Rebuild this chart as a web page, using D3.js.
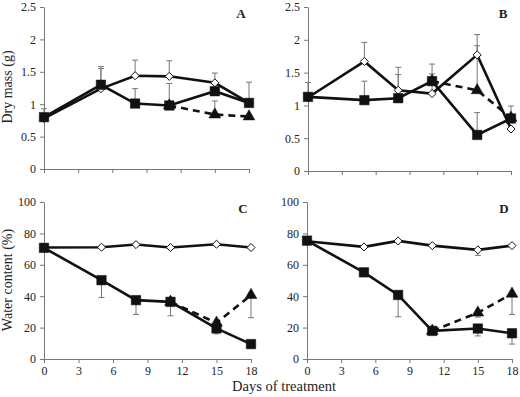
<!DOCTYPE html>
<html>
<head>
<meta charset="utf-8">
<script src="https://cdn.jsdelivr.net/npm/d3@7"></script>
<style>
  body { margin: 0; background: #fff; }
  text { font-family: "Liberation Serif", "Times New Roman", serif; fill: #222; }
</style>
</head>
<body>
<svg id="chart" width="520" height="397"></svg>
<script>
// days of treatment
var days = [0, 5, 8, 11, 15, 18];
var rewaterDays = [11, 15, 18];
var xTicks = [0, 3, 6, 9, 12, 15, 18];

// panel A - dry mass
var dryA_square = [0.80, 1.30, 1.01, 0.98, 1.20, 1.02];
var dryA_squareErr = [0.13, 0.28, 0.23, 0.34, 0, 0.32];
var dryA_diamond = [0.78, 1.24, 1.44, 1.43, 1.33, 1.02];
var dryA_diamondErr = [0, 0.31, 0.24, 0.24, 0.15, 0];
var dryA_triangle = [0.98, 0.84, 0.81];
var dryA_triangleErr = [0, 0.21, 0];

// panel B - dry mass
var dryB_square = [1.13, 1.08, 1.11, 1.37, 0.55, 0.80];
var dryB_squareErr = [0.22, 0.29, 0.36, 0.26, 0.34, 0.19];
var dryB_diamond = [1.12, 1.67, 1.23, 1.18, 1.77, 0.64];
var dryB_diamondErr = [0, 0.29, 0.35, 0.30, 0.31, 0];
var dryB_triangle = [1.37, 1.23, 0.81];
var dryB_triangleErr = [0, 0.68, 0];

// panel C - water content
var waterC_square = [70.8, 50.2, 37.5, 36.4, 19.5, 9.5];
var waterC_squareErr = [0, 11, 9.1, 8.9, 3.5, 0];
var waterC_diamond = [71, 71.2, 72.9, 71.0, 73.1, 71];
var waterC_diamondErr = [0, 0, 0, 0, 0, 0];
var waterC_triangle = [36.4, 23, 40.7];
var waterC_triangleErr = [0, 3, 14.4];

// panel D - water content
var waterD_square = [75.4, 55.2, 40.8, 17.9, 19.4, 16.4];
var waterD_squareErr = [0, 1.5, 13.9, 0, 4.7, 6.9];
var waterD_diamond = [75, 71.4, 75.2, 72.2, 69.5, 72.2];
var waterD_diamondErr = [0, 0, 0, 0, 3.5, 0];
var waterD_triangle = [17.9, 29.5, 41.5];
var waterD_triangleErr = [0, 2.8, 13.1];

var dryTicks = [0, 0.5, 1, 1.5, 2, 2.5];
var waterTicks = [0, 20, 40, 60, 80, 100];

var svg = d3.select("#chart");

var panels = [
  { label: "A", x0: 44, x1: 249, y0: 169, y1: 7, max: 2.5, ticks: dryTicks, errDir: 1, xLabels: false,
    sq: dryA_square, sqE: dryA_squareErr, di: dryA_diamond, diE: dryA_diamondErr, tr: dryA_triangle, trE: dryA_triangleErr },
  { label: "B", x0: 308, x1: 511, y0: 171, y1: 7, max: 2.5, ticks: dryTicks, errDir: 1, xLabels: false,
    sq: dryB_square, sqE: dryB_squareErr, di: dryB_diamond, diE: dryB_diamondErr, tr: dryB_triangle, trE: dryB_triangleErr },
  { label: "C", x0: 44, x1: 251, y0: 359, y1: 202, max: 100, ticks: waterTicks, errDir: -1, xLabels: true,
    sq: waterC_square, sqE: waterC_squareErr, di: waterC_diamond, diE: waterC_diamondErr, tr: waterC_triangle, trE: waterC_triangleErr },
  { label: "D", x0: 307, x1: 512, y0: 359, y1: 202, max: 100, ticks: waterTicks, errDir: -1, xLabels: true,
    sq: waterD_square, sqE: waterD_squareErr, di: waterD_diamond, diE: waterD_diamondErr, tr: waterD_triangle, trE: waterD_triangleErr }
];

panels.forEach(function (p) {
  var x = d3.scaleLinear().domain([0, 18]).range([p.x0, p.x1]);
  var y = d3.scaleLinear().domain([0, p.max]).range([p.y0, p.y1]);
  var g = svg.append("g");

  // axes
  var xa = g.append("g").attr("transform", "translate(0," + p.y0 + ")")
    .call(d3.axisBottom(x).tickValues(xTicks).tickSize(4).tickSizeOuter(0)
      .tickFormat(p.xLabels ? d3.format("d") : function () { return ""; }));
  var ya = g.append("g").attr("transform", "translate(" + p.x0 + ",0)")
    .call(d3.axisLeft(y).tickValues(p.ticks).tickSize(4).tickSizeOuter(0).tickFormat(d3.format("")));
  [xa, ya].forEach(function (a) {
    a.select(".domain").attr("stroke", "#777");
    a.selectAll(".tick line").attr("stroke", "#777");
    a.selectAll(".tick text").attr("font-size", 12).attr("font-family", "Liberation Serif").attr("fill", "#222");
  });
  ya.selectAll(".tick text").attr("dx", "-1");

  var series = [
    { days: days, v: p.di, e: p.diE, type: "diamond", dash: null },
    { days: rewaterDays, v: p.tr, e: p.trE, type: "triangle", dash: "7,5" },
    { days: days, v: p.sq, e: p.sqE, type: "square", dash: null }
  ];

  // error bars
  series.forEach(function (s) {
    s.v.forEach(function (v, i) {
      if (!s.e[i]) return;
      var yy = y(v + p.errDir * s.e[i]);
      g.append("line").attr("x1", x(s.days[i])).attr("x2", x(s.days[i]))
        .attr("y1", y(v)).attr("y2", yy).attr("stroke", "#777").attr("stroke-width", 1);
      g.append("line").attr("x1", x(s.days[i]) - 3).attr("x2", x(s.days[i]) + 3)
        .attr("y1", yy).attr("y2", yy).attr("stroke", "#777").attr("stroke-width", 1);
    });
  });

  // lines
  series.forEach(function (s) {
    var line = d3.line().x(function (d, i) { return x(s.days[i]); }).y(function (d) { return y(d); });
    g.append("path").datum(s.v).attr("d", line)
      .attr("fill", "none").attr("stroke", "#111").attr("stroke-width", 2.6)
      .attr("stroke-dasharray", s.dash);
  });

  // markers
  series.forEach(function (s) {
    var sym = s.type === "diamond" ? d3.symbolDiamond2 : (s.type === "triangle" ? d3.symbolTriangle : d3.symbolSquare);
    var size = s.type === "diamond" ? 42 : (s.type === "triangle" ? 60 : 90);
    g.selectAll(null).data(s.v).enter().append("path")
      .attr("transform", function (d, i) { return "translate(" + x(s.days[i]) + "," + y(d) + ")"; })
      .attr("d", d3.symbol().type(sym).size(size))
      .attr("fill", s.type === "diamond" ? "#fff" : "#111")
      .attr("stroke", "#111").attr("stroke-width", s.type === "diamond" ? 1 : 0.5);
  });

  g.append("text").attr("x", p.x1 - 8).attr("y", p.y1 + 11)
    .attr("text-anchor", "middle").attr("font-size", 13).attr("font-weight", "bold").text(p.label);
});

svg.append("text").attr("transform", "translate(12,87) rotate(-90)")
  .attr("text-anchor", "middle").attr("font-size", 14).text("Dry mass (g)");
svg.append("text").attr("transform", "translate(12,280) rotate(-90)")
  .attr("text-anchor", "middle").attr("font-size", 14).text("Water content (%)");
svg.append("text").attr("x", 284).attr("y", 391)
  .attr("text-anchor", "middle").attr("font-size", 14.5).text("Days of treatment");
</script>
</body>
</html>
